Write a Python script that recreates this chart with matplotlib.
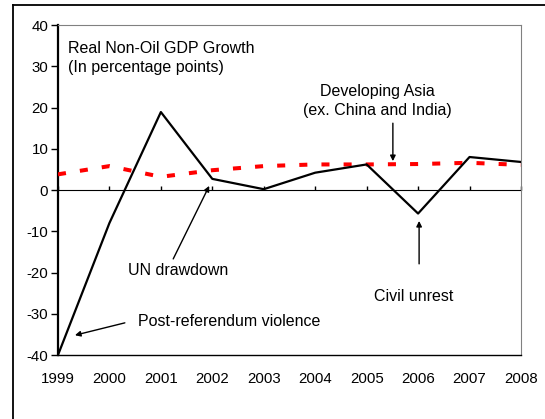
import matplotlib
matplotlib.use("Agg")
import matplotlib.pyplot as plt
from matplotlib.lines import Line2D

plt.rcParams["font.family"] = ["Liberation Sans", "DejaVu Sans"]
plt.rcParams["axes.unicode_minus"] = False

years = [1999, 2000, 2001, 2002, 2003, 2004, 2005, 2006, 2007, 2008]
timor_growth = [-40.0, -8.0, 18.9, 2.7, 0.2, 4.2, 6.2, -5.7, 8.0, 6.8]
asia_growth = [3.8, 5.8, 3.2, 4.8, 5.8, 6.2, 6.2, 6.3, 6.6, 6.1]

fig = plt.figure(figsize=(5.45, 4.19), dpi=100)
ax = fig.add_axes([0.1064, 0.1527, 0.8495, 0.7876])

ax.plot(years, asia_growth, color="#ff0000", lw=2.9, linestyle=(0, (2, 3.5)),
        dash_capstyle="butt", zorder=3)
ax.plot(years, timor_growth, color="black", lw=1.6, zorder=4)

ax.set_xlim(1999, 2008)
ax.set_ylim(-40, 40)
ax.set_yticks([-40, -30, -20, -10, 0, 10, 20, 30, 40])
ax.set_xticks(years)
ax.tick_params(axis="x", length=0, pad=12, labelsize=10.8)
ax.tick_params(axis="y", direction="out", length=5, width=1, labelsize=10.8, pad=2)

# рамка области построения
ax.spines["left"].set_linewidth(1.6)
ax.spines["bottom"].set_linewidth(1.0)
ax.spines["top"].set_color("#808080")
ax.spines["right"].set_color("#808080")
ax.spines["top"].set_linewidth(0.8)
ax.spines["right"].set_linewidth(0.8)

# ось X проходит через ноль
zero_ax = ax.secondary_xaxis(0.5)
zero_ax.set_xticks(years)
zero_ax.tick_params(direction="out", length=3, width=1, labelbottom=False, labeltop=False)
zero_ax.spines["bottom"].set_linewidth(1.0)

fs = 11.5
ax.text(1999.19, 36.2, "Real Non-Oil GDP Growth\n(In percentage points)",
        ha="left", va="top", fontsize=fs, linespacing=1.35)

ax.text(2005.2, 21.6, "Developing Asia\n(ex. China and India)",
        ha="center", va="center", fontsize=fs, linespacing=1.35)

arrow = dict(arrowstyle="-|>", color="black", lw=1.0, mutation_scale=8, shrinkA=0, shrinkB=0)
ax.annotate("", xy=(2005.51, 7.0), xytext=(2005.51, 16.2), arrowprops=arrow)

ax.text(2001.33, -19.4, "UN drawdown", ha="center", va="center", fontsize=fs)
ax.annotate("", xy=(2001.94, 1.0), xytext=(2001.24, -16.7), arrowprops=arrow)

ax.text(2000.56, -31.8, "Post-referendum violence", ha="left", va="center", fontsize=fs)
ax.annotate("", xy=(1999.33, -35.2), xytext=(2000.30, -32.2), arrowprops=arrow)

ax.text(2005.92, -25.9, "Civil unrest", ha="center", va="center", fontsize=fs)
ax.annotate("", xy=(2006.02, -7.5), xytext=(2006.02, -17.9), arrowprops=arrow)

# внешняя рамка рисунка
fig.add_artist(Line2D([13 / 545, 13 / 545], [0, 1 - 5 / 419], color="black", lw=1.3,
                      transform=fig.transFigure))
fig.add_artist(Line2D([13 / 545, 1], [1 - 5 / 419, 1 - 5 / 419], color="black", lw=1.3,
                      transform=fig.transFigure))

fig.savefig("out.png", dpi=100)
